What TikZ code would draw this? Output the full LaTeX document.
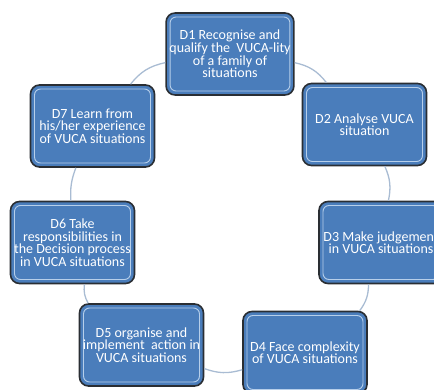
\documentclass[tikz,border=0pt]{standalone}
\usepackage{fontspec}
\setmainfont{Carlito}
\usepackage{xcolor}
\usetikzlibrary{positioning}

\definecolor{boxblue}{HTML}{4A7DBB}
\definecolor{boxedge}{HTML}{2A2E33}
\definecolor{ringline}{HTML}{A9BCD3}
\definecolor{shine}{HTML}{B7CFEA}

\begin{document}
\begin{tikzpicture}[x=1pt, y=-1pt,
    dbox/.style={rectangle, rounded corners=9pt, draw=boxedge, line width=1.6pt,
        fill=boxblue, text=white, align=center, minimum width=124pt, minimum height=82pt,
        font=\fontsize{14}{12.6}\selectfont,
        path picture={\draw[shine, line width=0.9pt, rounded corners=6pt]
            ([shift={(4pt,-4pt)}]path picture bounding box.north west) rectangle
            ([shift={(-4pt,4pt)}]path picture bounding box.south east);}},
    ring/.style={draw=ringline, line width=1.3pt}]
    \useasboundingbox (0,0) rectangle (434,390);

    % Steps round the cycle
    \node[dbox] (d1) at (230,54) {D1 Recognise and\\qualify the~ VUCA-lity\\of a family of\\situations};
    \node[dbox] (d2) at (364.5,124.5) {D2 Analyse VUCA\\situation};
    \node[dbox] (d3) at (381,242.5) {D3 Make judgement\\in VUCA situations};
    \node[dbox] (d4) at (305,352.5) {D4 Face complexity\\of VUCA situations};
    \node[dbox] (d5) at (141.5,345) {D5 organise and\\implement~ action in\\VUCA situations};
    \node[dbox] (d6) at (72.5,242.5) {D6 Take\\responsibilities in\\the Decision process\\in VUCA situations};
    \node[dbox] (d7) at (92.5,126) {D7 Learn from\\his/her experience\\of VUCA situations};

    % Ring
    \draw[ring] (d1) to[bend left=20] (d2);
    \draw[ring] (d2) to[bend left=18] (d3);
    \draw[ring] (d3) to[bend left=18] (d4);
    \draw[ring] (d4) to[bend left=18] (d5);
    \draw[ring] (d5) to[bend left=18] (d6);
    \draw[ring] (d6) to[bend left=12] (d7);
    \draw[ring] (d7) to[bend left=20] (d1);
\end{tikzpicture}
\end{document}
